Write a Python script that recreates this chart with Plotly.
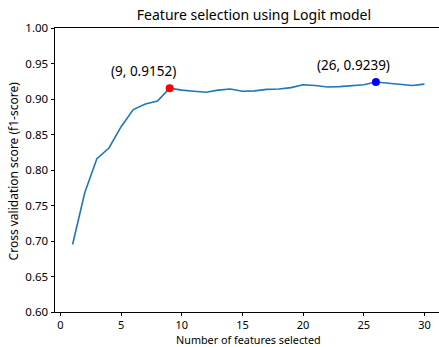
import plotly.graph_objects as go

n_features = list(range(1, 31))
scores = [0.695, 0.768, 0.816, 0.831, 0.861, 0.885, 0.893, 0.897, 0.9152, 0.9125,
          0.911, 0.9095, 0.9125, 0.914, 0.911, 0.9115, 0.9135, 0.914, 0.916, 0.920,
          0.919, 0.917, 0.9175, 0.919, 0.920, 0.9239, 0.9225, 0.921, 0.919, 0.921]
highlight_x = [9, 26]
highlight_y = [0.9152, 0.9239]
highlight_colors = ["red", "blue"]
highlight_labels = ["(9, 0.9152)", "(26, 0.9239)"]
x_ticks = [0, 5, 10, 15, 20, 25, 30]
y_ticks = [0.60, 0.65, 0.70, 0.75, 0.80, 0.85, 0.90, 0.95, 1.00]

FONT = "Noto Sans"
B = 35
PLOT_H = 347 - 28 - B

fig = go.Figure()
fig.add_trace(go.Scatter(x=n_features, y=scores, mode="lines",
                         line=dict(color="#1f77b4", width=1.6), showlegend=False))
fig.add_trace(go.Scatter(x=highlight_x, y=highlight_y, mode="markers",
                         marker=dict(color=highlight_colors, size=8), showlegend=False))

for hx, hy, lab in zip(highlight_x, highlight_y, highlight_labels):
    fig.add_annotation(x=hx - 5, y=hy + 0.009, text=lab, showarrow=False,
                       xanchor="left", yanchor="bottom",
                       font=dict(family=FONT, size=13.5, color="black"))

# axis titles as annotations for precise placement
fig.add_annotation(text="Number of features selected", xref="paper", yref="paper",
                   x=0.503, y=-(B - 7.5) / PLOT_H, showarrow=False, xanchor="center",
                   yanchor="middle", borderpad=0,
                   font=dict(family=FONT, size=10.8, color="black"))
fig.add_annotation(text="Cross validation score (f1-score)", xref="paper", yref="paper",
                   x=0, xshift=-42, y=0.495, showarrow=False, textangle=-90,
                   xanchor="center", yanchor="middle",
                   font=dict(family=FONT, size=12, color="black"))

fig.update_layout(
    width=439, height=347,
    margin=dict(l=55, r=0, t=28, b=B),
    plot_bgcolor="white", paper_bgcolor="white",
    font=dict(family=FONT, size=11.5, color="black"),
    title=dict(text="Feature selection using Logit model", x=254/439, xref="container",
               xanchor="center", y=1 - 15/347, yref="container", yanchor="middle",
               font=dict(family=FONT, size=14, color="black")),
)
fig.update_xaxes(range=[-0.45, 31.2], tickvals=x_ticks, ticks="outside", ticklen=3,
                 tickcolor="black", showline=True, linecolor="black", linewidth=1,
                 mirror=True, showgrid=False, zeroline=False,
                 tickfont=dict(size=11))
fig.update_yaxes(range=[0.6, 1.0], tickvals=y_ticks, tickformat=".2f", ticks="outside",
                 ticklen=3.5, tickcolor="black", showline=True, linecolor="black",
                 linewidth=1, showgrid=False, zeroline=False,
                 tickfont=dict(size=11.5))

fig.write_html("out.html")
